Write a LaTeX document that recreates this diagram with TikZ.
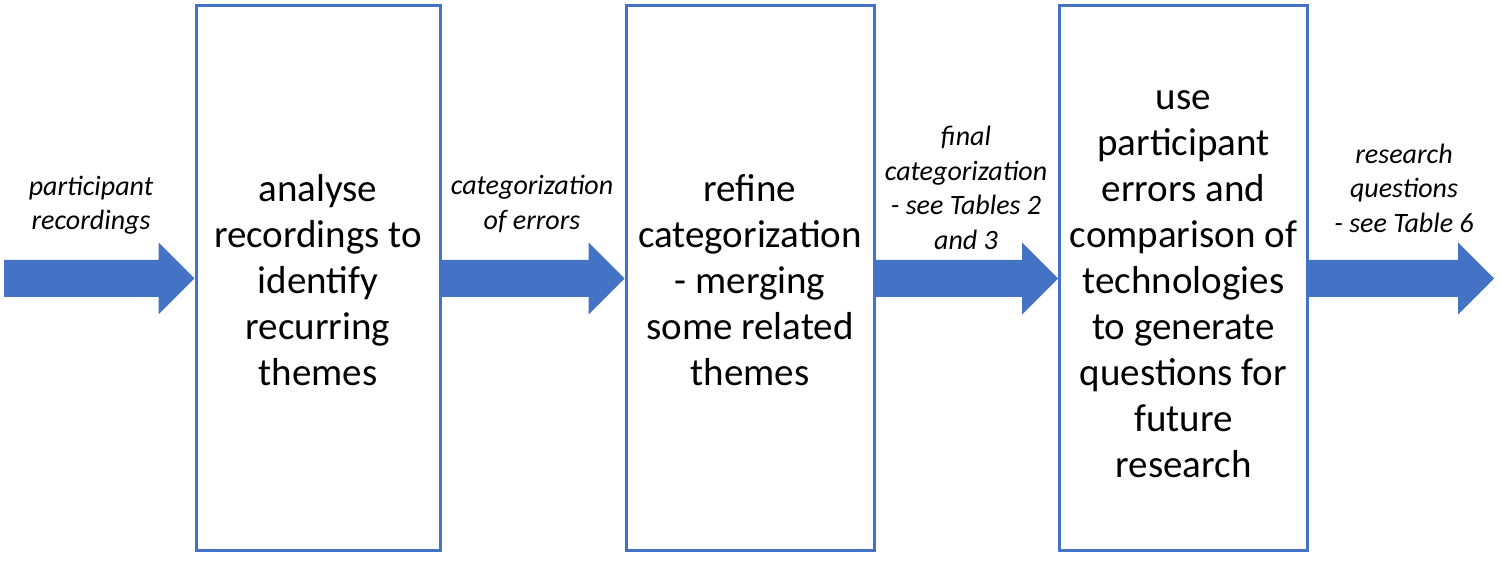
\documentclass[tikz,border=0pt]{standalone}
\usepackage{fontspec}
\setmainfont{Carlito}
\usetikzlibrary{calc}
\definecolor{officeblue}{HTML}{4472C4}
\newcommand\toppad{\rule{0pt}{44pt}}
\tikzset{
  stagebox/.style={draw=officeblue, line width=3pt, fill=white, minimum width=244pt, minimum height=545pt, inner sep=0pt, align=center, font=\fontsize{39}{46}\selectfont},
  flowlabel/.style={align=center, inner sep=0pt, font=\fontsize{28}{34.5}\selectfont\itshape},
}
\newcommand\blockarrow[2]{%
  \fill[officeblue] let \p1=(#1), \p2=(#2) in
    (\x1,\y1+18.5) -- (\x2-36,\y1+18.5) -- (\x2-36,\y1+36) -- (\x2,\y1)
    -- (\x2-36,\y1-36) -- (\x2-36,\y1-18.5) -- (\x1,\y1-18.5) -- cycle;}
\begin{document}
\begin{tikzpicture}[x=1pt,y=1pt]
\useasboundingbox (0,0) rectangle (1500,562);
\node[stagebox] (b1) at (318,283.5) {\toppad analyse\\recordings to\\identify\\recurring\\themes\strut};
\node[stagebox, minimum width=248pt] (b2) at (750,283.5) {\toppad refine\\categorization\\- merging\\some related\\themes\strut};
\node[stagebox, minimum width=248pt] (b3) at (1183.5,283.5) {\toppad use\\participant\\errors and\\comparison of\\technologies\\to generate\\questions for\\future\\research\strut};
\coordinate (in0) at (4,283.5);
\coordinate (out0) at (1494,283.5);
\blockarrow{in0}{b1.west}
\blockarrow{b1.east}{b2.west}
\blockarrow{b2.east}{b3.west}
\blockarrow{b3.east}{out0}
\node[flowlabel] (l1) at (91,357) {participant\\recordings};
\node[flowlabel] (l2) at (532,358) {categorization\\of errors};
\node[flowlabel] (l3) at (966,374) {final\\categorization\\- see Tables 2\\and 3};
\node[flowlabel] (l4) at (1404,374) {research\\questions\\- see Table 6};
\end{tikzpicture}
\end{document}
